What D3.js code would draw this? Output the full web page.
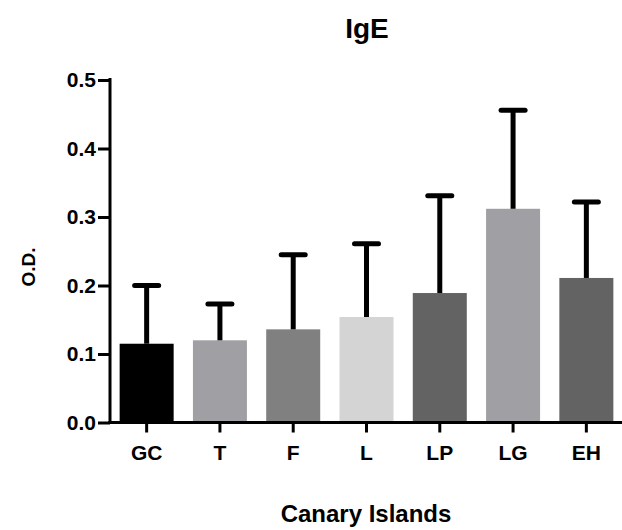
<!DOCTYPE html>
<html>
<head>
<meta charset="utf-8">
<script src="https://cdn.jsdelivr.net/npm/d3@7"></script>
<style>
  body { margin: 0; background: #fff; }
  text { font-family: "Liberation Sans", Arial, sans-serif; font-weight: bold; fill: #000; }
</style>
</head>
<body>
<svg id="chart" width="622" height="530"></svg>
<script>
const categories = ["GC", "T", "F", "L", "LP", "LG", "EH"];
const means = [0.115, 0.120, 0.136, 0.154, 0.189, 0.312, 0.211];
const upper = [0.200, 0.173, 0.245, 0.261, 0.331, 0.456, 0.322];
const colors = ["#000000", "#a0a0a4", "#808080", "#d4d4d4", "#636363", "#a0a0a4", "#636363"];
const yTicks = [0.0, 0.1, 0.2, 0.3, 0.4, 0.5];

const svg = d3.select("#chart");
const x0 = 110, x1 = 623, yTop = 80, yBase = 422.5;

const x = d3.scaleBand().domain(categories).range([x0, x1]).paddingInner(0.263).paddingOuter(0.1315);
const y = d3.scaleLinear().domain([0, 0.5]).range([yBase, yTop]);

// bars
svg.selectAll("rect.bar").data(categories).enter().append("rect")
  .attr("x", d => x(d)).attr("width", x.bandwidth())
  .attr("y", (d, i) => y(means[i])).attr("height", (d, i) => y(0) - y(means[i]))
  .attr("fill", (d, i) => colors[i]);

// error bars
const cx = d => x(d) + x.bandwidth() / 2;
svg.selectAll("line.err").data(categories).enter().append("line")
  .attr("x1", cx).attr("x2", cx)
  .attr("y1", (d, i) => y(means[i])).attr("y2", (d, i) => y(upper[i]))
  .attr("stroke", "#000").attr("stroke-width", 5);
svg.selectAll("line.cap").data(categories).enter().append("line")
  .attr("x1", d => cx(d) - 12).attr("x2", d => cx(d) + 12)
  .attr("y1", (d, i) => y(upper[i])).attr("y2", (d, i) => y(upper[i]))
  .attr("stroke", "#000").attr("stroke-width", 5).attr("stroke-linecap", "round");

// y axis
const yAxis = d3.axisLeft(y).tickValues(yTicks).tickFormat(d3.format(".1f")).tickSize(12).tickPadding(2);
const gy = svg.append("g").attr("transform", `translate(${x0},0)`).call(yAxis);
gy.select(".domain").attr("d", `M0,${yTop - 2}V${yBase + 1.5}`).attr("stroke", "#000").attr("stroke-width", 3);
gy.selectAll(".tick line").attr("stroke", "#000").attr("stroke-width", 3);
gy.selectAll(".tick text").style("font-size", "21px").attr("font-family", null);

// x axis
const xAxis = d3.axisBottom(x).tickSize(10).tickPadding(13);
const gx = svg.append("g").attr("transform", `translate(0,${yBase})`).call(xAxis);
gx.select(".domain").attr("d", `M${x0 - 1.5},0H${x1}`).attr("stroke", "#000").attr("stroke-width", 3);
gx.selectAll(".tick line").attr("stroke", "#000").attr("stroke-width", 3);
gx.selectAll(".tick text").style("font-size", "21px").attr("font-family", null);

// title
svg.append("text").attr("x", 367).attr("y", 38).attr("text-anchor", "middle")
  .style("font-size", "28px").text("IgE");

// x label
svg.append("text").attr("x", 366).attr("y", 522).attr("text-anchor", "middle")
  .style("font-size", "24px").text("Canary Islands");

// y label
svg.append("text").attr("transform", "translate(35,267) rotate(-90)").attr("text-anchor", "middle")
  .style("font-size", "19px").text("O.D.");
</script>
</body>
</html>
